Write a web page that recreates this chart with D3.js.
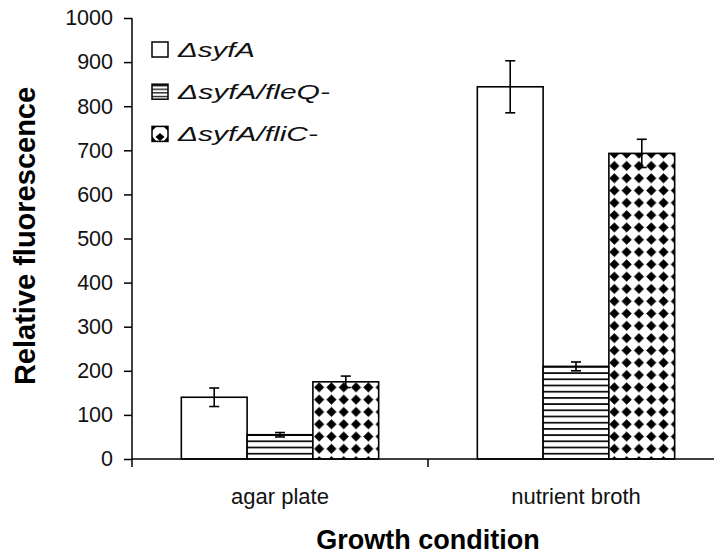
<!DOCTYPE html>
<html>
<head>
<meta charset="utf-8">
<script src="https://cdn.jsdelivr.net/npm/d3@7"></script>
<style>
  html, body { margin: 0; padding: 0; background: #fff; }
  svg { display: block; font-family: "Liberation Sans", Arial, sans-serif; }
</style>
</head>
<body>
<svg id="chart" width="714" height="554"></svg>
<script>
// Growth conditions on the x axis
const categories = ["agar plate", "nutrient broth"];
// Strains shown as bars within each condition
const strains = ["ΔsyfA", "ΔsyfA/fleQ-", "ΔsyfA/fliC-"];
// Mean relative fluorescence per strain, one value per condition
const syfA = [140, 844];
const syfAfleQ = [55, 210];
const syfAfliC = [175, 693];
// Error bar half-widths
const syfAErr = [21, 59];
const syfAfleQErr = [5, 10];
const syfAfliCErr = [13, 32];
// Y axis ticks
const yTicks = [0, 100, 200, 300, 400, 500, 600, 700, 800, 900, 1000];

const seriesValues = [syfA, syfAfleQ, syfAfliC];
const seriesErrors = [syfAErr, syfAfleQErr, syfAfliCErr];
const fills = ["#fff", "url(#hlines)", "url(#diamonds)"];
const legendFills = ["#fff", "url(#hlinesL)", "url(#diamondsL)"];
const legendWidths = [77, 152, 140];

const svg = d3.select("#chart");
const plotLeft = 132, plotTop = 18, plotBottom = 459;
const catWidth = 296;

// Bar fill patterns
const defs = svg.append("defs");
const hl = defs.append("pattern").attr("id", "hlines")
  .attr("patternUnits", "userSpaceOnUse").attr("width", 8).attr("height", 6.2)
  .attr("y", plotBottom);
hl.append("rect").attr("width", 8).attr("height", 6.2).attr("fill", "#fff");
hl.append("rect").attr("y", 0).attr("width", 8).attr("height", 1.8).attr("fill", "#111");

const dm = defs.append("pattern").attr("id", "diamonds")
  .attr("patternUnits", "userSpaceOnUse").attr("width", 12.3).attr("height", 12.3)
  .attr("x", 313).attr("y", 455);
dm.append("rect").attr("width", 12.3).attr("height", 12.3).attr("fill", "#fff");
dm.append("path").attr("d", "M6.15,1.4 L10.9,6.15 L6.15,10.9 L1.4,6.15 Z").attr("fill", "#000")
  .attr("stroke", "#000").attr("stroke-width", 0.6).attr("stroke-linejoin", "round");

// Smaller pattern tiles for the legend swatches
const hlL = defs.append("pattern").attr("id", "hlinesL")
  .attr("patternUnits", "userSpaceOnUse").attr("width", 8).attr("height", 3.6).attr("y", 85);
hlL.append("rect").attr("width", 8).attr("height", 3.6).attr("fill", "#fff");
hlL.append("rect").attr("width", 8).attr("height", 1.3).attr("fill", "#111");
const dmL = defs.append("pattern").attr("id", "diamondsL")
  .attr("patternUnits", "userSpaceOnUse").attr("width", 16).attr("height", 15)
  .attr("x", 152).attr("y", 126);
dmL.append("rect").attr("width", 16).attr("height", 15).attr("fill", "#fff");
dmL.append("path").attr("d", "M8,7 L12.5,11 L8,15 L3.5,11 Z M0,0 L5,0 L0,5 Z M16,0 L11,0 L16,5 Z M0,15 L0,10 L4,15 Z M16,15 L16,10 L12,15 Z")
  .attr("fill", "#000");

const y = d3.scaleLinear().domain([0, 1000]).range([plotBottom, plotTop]);
const x0 = d3.scaleBand().domain(categories)
  .range([plotLeft, plotLeft + catWidth * categories.length]).paddingInner(0).paddingOuter(0);
const x1 = d3.scaleBand().domain(d3.range(strains.length))
  .range([0, catWidth]).paddingInner(0).paddingOuter(0.75);

// Bars
categories.forEach((c, ci) => {
  seriesValues.forEach((vals, si) => {
    const bx = x0(c) + x1(si);
    svg.append("rect")
      .attr("x", bx).attr("y", y(vals[ci]))
      .attr("width", x1.bandwidth()).attr("height", y(0) - y(vals[ci]))
      .attr("fill", fills[si]).attr("stroke", "#000").attr("stroke-width", 1.6);
  });
});

// Error bars
categories.forEach((c, ci) => {
  seriesValues.forEach((vals, si) => {
    const cx = x0(c) + x1(si) + x1.bandwidth() / 2;
    const v = vals[ci], e = seriesErrors[si][ci];
    const g = svg.append("g").attr("stroke", "#000").attr("stroke-width", 1.6);
    g.append("line").attr("x1", cx).attr("x2", cx).attr("y1", y(v + e)).attr("y2", y(v - e));
    g.append("line").attr("x1", cx - 5).attr("x2", cx + 5).attr("y1", y(v + e)).attr("y2", y(v + e));
    g.append("line").attr("x1", cx - 5).attr("x2", cx + 5).attr("y1", y(v - e)).attr("y2", y(v - e));
  });
});

// Y axis
const yAxis = d3.axisLeft(y).tickValues(yTicks).tickFormat(d3.format("d")).tickSize(8).tickPadding(11);
const yg = svg.append("g").attr("transform", `translate(${plotLeft},0)`).call(yAxis);
yg.select(".domain").attr("stroke", "#000").attr("stroke-width", 1.5).attr("d", `M0,${plotTop}V${plotBottom}`);
yg.selectAll(".tick line").attr("stroke", "#000").attr("stroke-width", 1.5);
yg.selectAll(".tick text").attr("font-size", 21.5).attr("fill", "#111")
  .attr("font-family", "Liberation Sans, Arial, sans-serif");

// X axis: baseline with ticks at category boundaries
const xg = svg.append("g");
xg.append("line").attr("x1", plotLeft).attr("x2", 714).attr("y1", plotBottom).attr("y2", plotBottom)
  .attr("stroke", "#000").attr("stroke-width", 1.5);
d3.range(categories.length + 1).forEach(i => {
  const tx = plotLeft + i * catWidth;
  xg.append("line").attr("x1", tx).attr("x2", tx).attr("y1", plotBottom).attr("y2", plotBottom + 8)
    .attr("stroke", "#000").attr("stroke-width", 1.5);
});
categories.forEach(c => {
  xg.append("text").attr("x", x0(c) + x0.bandwidth() / 2).attr("y", 504)
    .attr("text-anchor", "middle").attr("font-size", 22).attr("fill", "#111").text(c);
});

// Axis titles
svg.append("text").attr("x", 428).attr("y", 549).attr("text-anchor", "middle")
  .attr("font-size", 27).attr("font-weight", "bold").text("Growth condition");
svg.append("text").attr("transform", "translate(35,236) rotate(-90)")
  .attr("text-anchor", "middle").attr("font-size", 29).attr("font-weight", "bold")
  .text("Relative fluorescence");

// Legend
const legend = svg.append("g");
strains.forEach((s, i) => {
  const by = 42 + i * 42.2;
  legend.append("rect").attr("x", 152).attr("y", by).attr("width", 16).attr("height", 15)
    .attr("fill", legendFills[i]).attr("stroke", "#000").attr("stroke-width", 1.5);
  legend.append("text").attr("x", 178).attr("y", by + 15).attr("font-size", 21)
    .attr("font-style", "italic").attr("fill", "#111")
    .attr("textLength", legendWidths[i]).attr("lengthAdjust", "spacingAndGlyphs").text(s);
});
</script>
</body>
</html>
